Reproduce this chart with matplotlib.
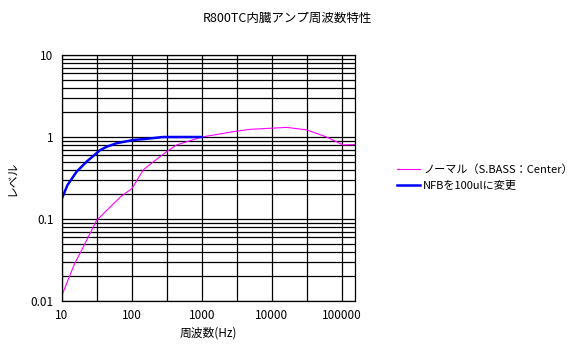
import matplotlib
matplotlib.use("Agg")
import matplotlib.pyplot as plt
from matplotlib.ticker import FixedLocator, NullFormatter, FixedFormatter
import numpy as np

plt.rcParams['font.family'] = ['Noto Sans CJK JP', 'DejaVu Sans']

# Data
normal_freq = [10, 15, 20, 31, 41, 69, 100, 145, 190, 313, 436, 1000, 2800, 4870, 9900, 16300, 31600, 60700, 105000, 155000]
normal_level = [0.0118, 0.028, 0.045, 0.095, 0.121, 0.187, 0.235, 0.396, 0.478, 0.662, 0.80, 1.0, 1.16, 1.24, 1.28, 1.31, 1.22, 1.0, 0.80, 0.81]
nfb_freq = [10, 12, 16.2, 22.5, 34.9, 43.5, 60.6, 105, 181, 280, 500, 1000]
nfb_level = [0.179, 0.26, 0.378, 0.50, 0.69, 0.76, 0.84, 0.92, 0.96, 1.0, 1.0, 1.0]

x_tick_labels = ['10', '100', '1000', '10000', '100000']
y_tick_labels = ['0.01', '0.1', '1', '10']

fig = plt.figure(figsize=(5.76, 3.56), dpi=100)
ax = fig.add_axes([62/576, 1-301/356, (355-62)/576, (301-55)/356])

ax.plot(normal_freq, normal_level, color='#ff00ff', lw=0.8, label='ノーマル（S.BASS：Center）')
ax.plot(nfb_freq, nfb_level, color='#0000ff', lw=1.8, label='NFBを100ulに変更')

ax.set_xscale('log')
ax.set_yscale('log')
ax.set_xlim(10, 155000)
ax.set_ylim(0.01, 10)

xmaj = [10**k for k in range(1, 6)]
ax.xaxis.set_major_locator(FixedLocator(xmaj))
ax.xaxis.set_major_formatter(FixedFormatter(x_tick_labels))
ax.xaxis.set_minor_locator(FixedLocator([10**(k + 0.5) for k in range(1, 6)]))
ax.xaxis.set_minor_formatter(NullFormatter())

ymaj = [0.01, 0.1, 1, 10]
ax.yaxis.set_major_locator(FixedLocator(ymaj))
ax.yaxis.set_major_formatter(FixedFormatter(y_tick_labels))
ax.yaxis.set_minor_locator(FixedLocator([m * 10.0**e for e in (-2, -1, 0) for m in range(2, 10)]))
ax.yaxis.set_minor_formatter(NullFormatter())

ax.grid(True, which='both', color='black', lw=0.9)
ax.set_axisbelow(True)
ax.tick_params(which='both', length=0, labelsize=8.5, pad=6)
for s in ax.spines.values():
    s.set_color('black')
    s.set_linewidth(0.9)

ax.set_xlabel('周波数(Hz)', fontsize=8.5, labelpad=3)
ax.set_ylabel('レベル', fontsize=8.5, labelpad=8)
fig.text(287/576, 1-18/356, 'R800TC内臓アンプ周波数特性', ha='center', va='center', fontsize=9)

ax.legend(loc='upper left', bbox_to_anchor=(393/576, 1-160/356), bbox_transform=fig.transFigure,
          frameon=False, fontsize=8, handlelength=2.0, handletextpad=0.3, labelspacing=0.5, borderaxespad=0)

fig.savefig('out.png', dpi=100)
